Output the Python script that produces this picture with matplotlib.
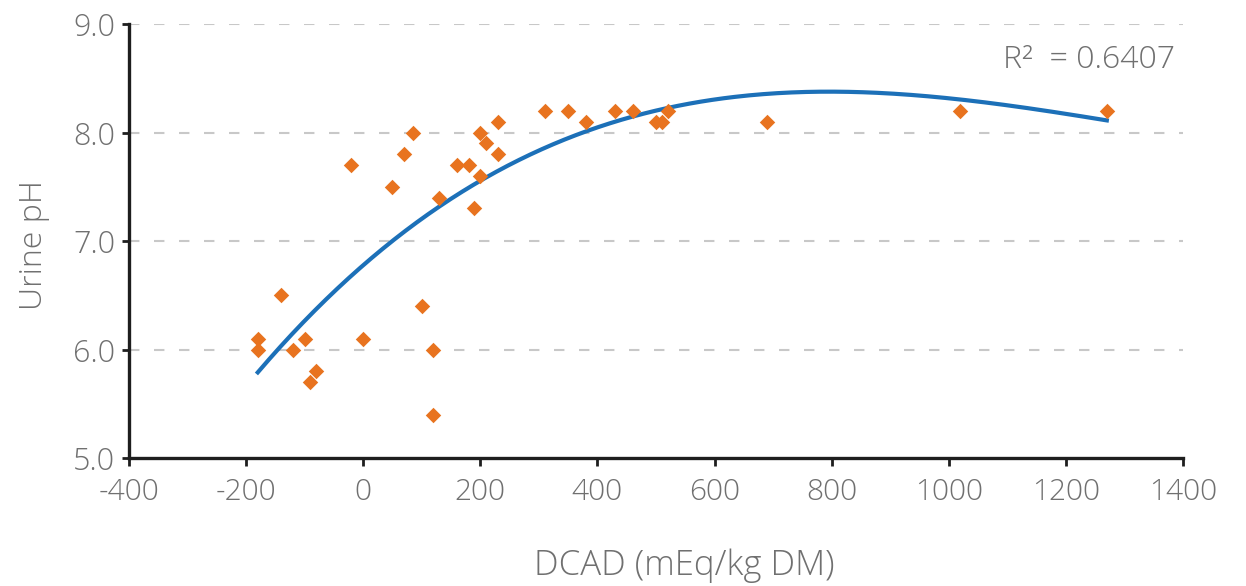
import numpy as np
import matplotlib
matplotlib.use("Agg")
import matplotlib.pyplot as plt

plt.rcParams['font.family'] = ['Open Sans', 'DejaVu Sans']
plt.rcParams['axes.unicode_minus'] = False

dcad = [-180, -180, -140, -120, -100, -90, -80, -20, 0, 50, 70, 85, 100, 120, 120,
        130, 160, 180, 190, 200, 200, 210, 230, 230, 310, 350, 380, 430, 460, 500,
        510, 520, 690, 1020, 1270]
ph = [6.1, 6.0, 6.5, 6.0, 6.1, 5.7, 5.8, 7.7, 6.1, 7.5, 7.8, 8.0, 6.4, 6.0, 5.4,
      7.4, 7.7, 7.7, 7.3, 7.6, 8.0, 7.9, 7.8, 8.1, 8.2, 8.2, 8.1, 8.2, 8.2, 8.1,
      8.1, 8.2, 8.1, 8.2, 8.2]

x_ticks = [-400, -200, 0, 200, 400, 600, 800, 1000, 1200, 1400]
y_ticks = [5.0, 6.0, 7.0, 8.0, 9.0]
r2_label = "R\u00b2  = 0.6407"

GREY = '#707070'
AXIS = '#1E1E1E'

fig = plt.figure(figsize=(12.46, 5.86), dpi=100)
ax = fig.add_axes([0.1035, 0.2184, 0.9494 - 0.1035, 0.959 - 0.2184])

coef = np.polyfit(dcad, ph, 3)
xs = np.linspace(min(dcad), max(dcad), 300)
ax.plot(xs, np.polyval(coef, xs), color='#1C70B8', lw=3, zorder=3)
ax.scatter(dcad, ph, marker='D', s=62, color='#E8731F', zorder=4, linewidths=0)

ax.set_xlim(-400, 1400)
ax.set_ylim(5.0, 9.0)
for y in y_ticks[1:]:
    ax.axhline(y, color='#C8C8C8', lw=1.5, ls=(0, (5, 7)), zorder=1)

for s in ['top', 'right']:
    ax.spines[s].set_visible(False)
for s in ['left', 'bottom']:
    ax.spines[s].set_linewidth(2.4)
    ax.spines[s].set_color(AXIS)
ax.tick_params(axis='both', direction='out', width=2, colors=AXIS)
ax.tick_params(axis='x', pad=8, length=6)
ax.tick_params(axis='y', pad=5, length=5)

ax.set_xticks(x_ticks)
ax.set_xticklabels([str(v) for v in x_ticks], fontsize=21.5,
                   color=GREY, fontweight='light')
ax.set_yticks(y_ticks)
ax.set_yticklabels([f"{v:.1f}" for v in y_ticks], fontsize=22, color=GREY,
                   fontweight='light')

fig.text(34 / 1246, 1 - 245 / 586, "Urine pH", rotation=90, fontsize=23,
         color=GREY, ha='center', va='center', fontweight='light')
fig.text(684 / 1246, 1 - 566 / 586, "DCAD (mEq/kg DM)",
         fontsize=25, color=GREY, ha='center', va='center', fontweight='light')
ax.text(1093, 8.67, r2_label, fontsize=23, color=GREY, va='center', ha='left',
        fontweight='light')

fig.savefig("out.png", dpi=100)
